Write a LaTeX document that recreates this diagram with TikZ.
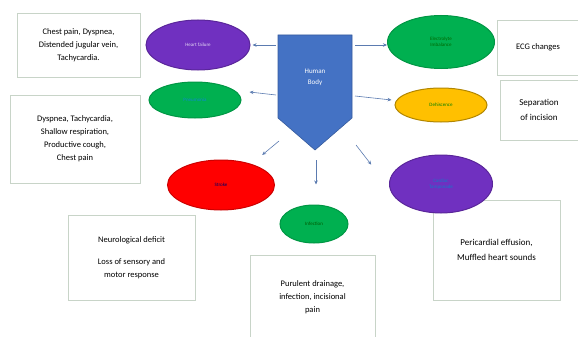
\documentclass[tikz,border=0pt]{standalone}
\usepackage{fontspec}
\setmainfont{Carlito}
\usetikzlibrary{shapes.geometric,arrows.meta}
\definecolor{pur}{HTML}{7030C0}
\definecolor{grn}{HTML}{00B050}
\definecolor{yel}{HTML}{FFC000}
\definecolor{rd}{HTML}{FF0000}
\definecolor{bl}{HTML}{4472C4}
\definecolor{boxline}{HTML}{C8D4C8}
\definecolor{arrc}{HTML}{5B7BB0}
\tikzset{
  ell/.style={ellipse, draw, line width=1pt, inner sep=0pt, font=\fontsize{5}{6}\selectfont, align=center},
  infobox/.style={draw=boxline, line width=0.8pt, fill=white, align=center, font=\fontsize{8.5}{13}\selectfont, inner sep=0pt},
  arr/.style={-{Stealth[length=4pt,width=3.5pt]}, draw=arrc, line width=0.6pt}
}
\begin{document}
\begin{tikzpicture}[x=1pt,y=-1pt]
\useasboundingbox (0,0) rectangle (578,337);
% info boxes
\node[infobox, minimum width=123, minimum height=64] (b1) at (78.5,45) {Chest pain, Dyspnea,\\Distended jugular vein,\\Tachycardia.};
\node[infobox, minimum width=130, minimum height=88] (b2) at (75,139) {Dyspnea, Tachycardia,\\Shallow respiration,\\Productive cough,\\Chest pain};
\node[infobox, minimum width=81, minimum height=55] (b3) at (538,47.5) {ECG changes};
\node[infobox, minimum width=78, minimum height=60, font=\fontsize{9}{15}\selectfont] (b4) at (539,110) {Separation\\of incision};
\node[infobox, minimum width=127, minimum height=85] (b5) at (131.5,257.5) {Neurological deficit\\[9pt]Loss of sensory and\\motor response};
\node[infobox, minimum width=125, minimum height=84] (b6) at (312.5,297) {Purulent drainage,\\infection, incisional\\pain};
\node[infobox, minimum width=127, minimum height=100, font=\fontsize{9}{15}\selectfont] (b7) at (496.5,250) {Pericardial effusion,\\Muffled heart sounds};
% ellipses
\node[ell, fill=pur, draw=pur!80!black, minimum width=104, minimum height=50, text=white!80!pur] (e1) at (198,45) {Heart failure};
\node[ell, fill=grn, draw=grn!85!black, minimum width=92, minimum height=36, text=cyan!70!blue] (e2) at (195,100) {Pneumonia};
\node[ell, fill=grn, draw=grn!85!black, minimum width=107, minimum height=53, text=green!40!black] (e3) at (441,42) {Electrolyte\\Imbalance};
\node[ell, fill=yel, draw=yel!70!black, minimum width=92, minimum height=34, text=green!50!black] (e4) at (441,105) {Dehiscence};
\node[ell, fill=rd, draw=rd!80!black, minimum width=107, minimum height=50, text=blue!40!black] (e5) at (221,185) {Stroke};
\node[ell, fill=grn, draw=grn!85!black, minimum width=68, minimum height=38, text=green!35!black] (e6) at (314,224) {Infection};
\node[ell, fill=pur, draw=pur!80!black, minimum width=103, minimum height=58, text=cyan!60!blue] (e7) at (441,184) {Cardiac\\Tamponade};
% human body
\draw[fill=bl, draw=bl!80!black, line width=0.6pt] (278,35) -- (352,35) -- (352,118) -- (315,150) -- (278,118) -- cycle;
\node[text=white, align=center, font=\fontsize{7}{11}\selectfont, inner sep=0pt] (body) at (315,77) {Human\\Body};
% arrows
\coordinate (s1) at (276,45);
\coordinate (s2) at (276,95);
\coordinate (s3) at (355,45);
\coordinate (s4) at (355,96);
\coordinate (s5) at (279,141);
\coordinate (s6) at (316,160);
\coordinate (s7) at (356,145);
\draw[arr] (s1) -- ([xshift=2]e1.east);
\draw[arr] (s2) -- ([xshift=8,yshift=8]e2.east);
\draw[arr] (s3) -- ([yshift=-3]e3.west);
\draw[arr] (s4) -- ([xshift=-3,yshift=5]e4.west);
\draw[arr] (s5) -- ([xshift=3,yshift=12]e5.north east);
\draw[arr] (s6) -- ([xshift=2,yshift=20]e6.north);
\draw[arr] (s7) -- ([xshift=-33,yshift=-1.5]e7.north west);
\end{tikzpicture}
\end{document}
